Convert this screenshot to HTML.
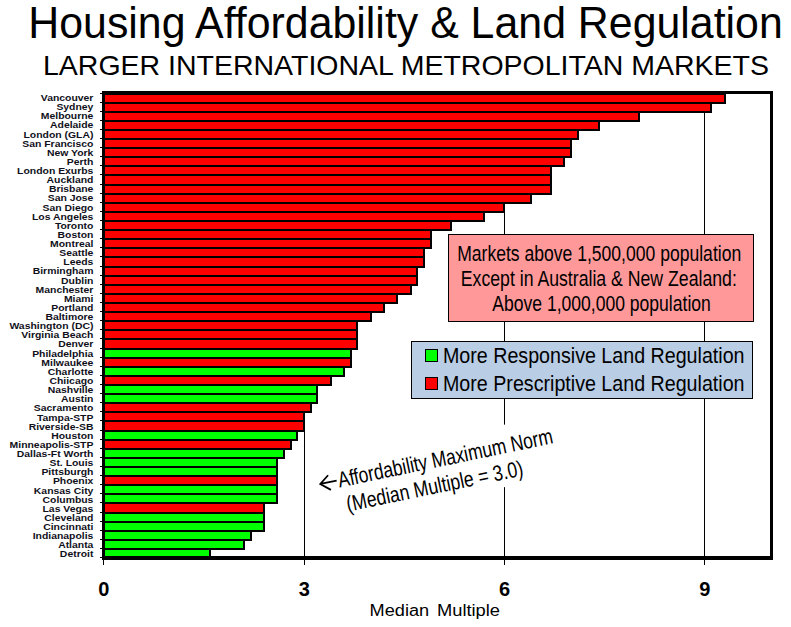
<!DOCTYPE html>
<html><head><meta charset="utf-8"><style>
html,body{margin:0;padding:0;background:#fff;width:791px;height:627px;overflow:hidden;}
svg{display:block;font-family:"Liberation Sans",sans-serif;}
</style></head><body>
<svg width="791" height="627" viewBox="0 0 791 627"><rect x="304" y="92" width="1" height="473" fill="#000"/>
<rect x="504" y="92" width="1" height="473" fill="#000"/>
<rect x="704" y="92" width="1" height="473" fill="#000"/>
<rect x="103" y="93" width="623" height="11" fill="#000"/>
<rect x="103" y="102" width="609" height="11" fill="#000"/>
<rect x="103" y="111" width="537" height="11" fill="#000"/>
<rect x="103" y="120" width="497" height="11" fill="#000"/>
<rect x="103" y="129" width="476" height="11" fill="#000"/>
<rect x="103" y="138" width="469" height="11" fill="#000"/>
<rect x="103" y="147" width="469" height="11" fill="#000"/>
<rect x="103" y="156" width="462" height="11" fill="#000"/>
<rect x="103" y="165" width="449" height="11" fill="#000"/>
<rect x="103" y="174" width="449" height="12" fill="#000"/>
<rect x="103" y="184" width="449" height="11" fill="#000"/>
<rect x="103" y="193" width="429" height="11" fill="#000"/>
<rect x="103" y="202" width="402" height="11" fill="#000"/>
<rect x="103" y="211" width="382" height="11" fill="#000"/>
<rect x="103" y="220" width="349" height="11" fill="#000"/>
<rect x="103" y="229" width="329" height="11" fill="#000"/>
<rect x="103" y="238" width="329" height="11" fill="#000"/>
<rect x="103" y="247" width="322" height="11" fill="#000"/>
<rect x="103" y="256" width="322" height="12" fill="#000"/>
<rect x="103" y="266" width="315" height="11" fill="#000"/>
<rect x="103" y="275" width="315" height="11" fill="#000"/>
<rect x="103" y="284" width="309" height="11" fill="#000"/>
<rect x="103" y="293" width="295" height="11" fill="#000"/>
<rect x="103" y="302" width="282" height="11" fill="#000"/>
<rect x="103" y="311" width="269" height="11" fill="#000"/>
<rect x="103" y="320" width="255" height="11" fill="#000"/>
<rect x="103" y="329" width="255" height="11" fill="#000"/>
<rect x="103" y="338" width="255" height="12" fill="#000"/>
<rect x="103" y="348" width="249" height="11" fill="#000"/>
<rect x="103" y="357" width="249" height="11" fill="#000"/>
<rect x="103" y="366" width="242" height="11" fill="#000"/>
<rect x="103" y="375" width="229" height="11" fill="#000"/>
<rect x="103" y="384" width="215" height="11" fill="#000"/>
<rect x="103" y="393" width="215" height="11" fill="#000"/>
<rect x="103" y="402" width="209" height="11" fill="#000"/>
<rect x="103" y="411" width="202" height="11" fill="#000"/>
<rect x="103" y="420" width="202" height="12" fill="#000"/>
<rect x="103" y="430" width="195" height="11" fill="#000"/>
<rect x="103" y="439" width="189" height="11" fill="#000"/>
<rect x="103" y="448" width="182" height="11" fill="#000"/>
<rect x="103" y="457" width="175" height="11" fill="#000"/>
<rect x="103" y="466" width="175" height="11" fill="#000"/>
<rect x="103" y="475" width="175" height="11" fill="#000"/>
<rect x="103" y="484" width="175" height="11" fill="#000"/>
<rect x="103" y="493" width="175" height="11" fill="#000"/>
<rect x="103" y="502" width="162" height="12" fill="#000"/>
<rect x="103" y="512" width="162" height="11" fill="#000"/>
<rect x="103" y="521" width="162" height="11" fill="#000"/>
<rect x="103" y="530" width="149" height="11" fill="#000"/>
<rect x="103" y="539" width="142" height="11" fill="#000"/>
<rect x="103" y="548" width="108" height="11" fill="#000"/>
<rect x="105" y="95" width="619" height="7" fill="#FF0000"/>
<rect x="105" y="104" width="605" height="7" fill="#FF0000"/>
<rect x="105" y="113" width="533" height="7" fill="#FF0000"/>
<rect x="105" y="122" width="493" height="7" fill="#FF0000"/>
<rect x="105" y="131" width="472" height="7" fill="#FF0000"/>
<rect x="105" y="140" width="465" height="7" fill="#FF0000"/>
<rect x="105" y="149" width="465" height="7" fill="#FF0000"/>
<rect x="105" y="158" width="458" height="7" fill="#FF0000"/>
<rect x="105" y="167" width="445" height="7" fill="#FF0000"/>
<rect x="105" y="176" width="445" height="8" fill="#FF0000"/>
<rect x="105" y="186" width="445" height="7" fill="#FF0000"/>
<rect x="105" y="195" width="425" height="7" fill="#FF0000"/>
<rect x="105" y="204" width="398" height="7" fill="#FF0000"/>
<rect x="105" y="213" width="378" height="7" fill="#FF0000"/>
<rect x="105" y="222" width="345" height="7" fill="#FF0000"/>
<rect x="105" y="231" width="325" height="7" fill="#FF0000"/>
<rect x="105" y="240" width="325" height="7" fill="#FF0000"/>
<rect x="105" y="249" width="318" height="7" fill="#FF0000"/>
<rect x="105" y="258" width="318" height="8" fill="#FF0000"/>
<rect x="105" y="268" width="311" height="7" fill="#FF0000"/>
<rect x="105" y="277" width="311" height="7" fill="#FF0000"/>
<rect x="105" y="286" width="305" height="7" fill="#FF0000"/>
<rect x="105" y="295" width="291" height="7" fill="#FF0000"/>
<rect x="105" y="304" width="278" height="7" fill="#FF0000"/>
<rect x="105" y="313" width="265" height="7" fill="#FF0000"/>
<rect x="105" y="322" width="251" height="7" fill="#FF0000"/>
<rect x="105" y="331" width="251" height="7" fill="#FF0000"/>
<rect x="105" y="340" width="251" height="8" fill="#FF0000"/>
<rect x="105" y="350" width="245" height="7" fill="#00FF00"/>
<rect x="105" y="359" width="245" height="7" fill="#FF0000"/>
<rect x="105" y="368" width="238" height="7" fill="#00FF00"/>
<rect x="105" y="377" width="225" height="7" fill="#FF0000"/>
<rect x="105" y="386" width="211" height="7" fill="#00FF00"/>
<rect x="105" y="395" width="211" height="7" fill="#00FF00"/>
<rect x="105" y="404" width="205" height="7" fill="#FF0000"/>
<rect x="105" y="413" width="198" height="7" fill="#FF0000"/>
<rect x="105" y="422" width="198" height="8" fill="#FF0000"/>
<rect x="105" y="432" width="191" height="7" fill="#00FF00"/>
<rect x="105" y="441" width="185" height="7" fill="#FF0000"/>
<rect x="105" y="450" width="178" height="7" fill="#00FF00"/>
<rect x="105" y="459" width="171" height="7" fill="#00FF00"/>
<rect x="105" y="468" width="171" height="7" fill="#00FF00"/>
<rect x="105" y="477" width="171" height="7" fill="#FF0000"/>
<rect x="105" y="486" width="171" height="7" fill="#00FF00"/>
<rect x="105" y="495" width="171" height="7" fill="#00FF00"/>
<rect x="105" y="504" width="158" height="8" fill="#FF0000"/>
<rect x="105" y="514" width="158" height="7" fill="#00FF00"/>
<rect x="105" y="523" width="158" height="7" fill="#00FF00"/>
<rect x="105" y="532" width="145" height="7" fill="#00FF00"/>
<rect x="105" y="541" width="138" height="7" fill="#00FF00"/>
<rect x="105" y="550" width="104" height="7" fill="#00FF00"/>
<rect x="102" y="91" width="3" height="469" fill="#000"/>
<rect x="770" y="91" width="3" height="469" fill="#000"/>
<rect x="102" y="91" width="671" height="3" fill="#000"/>
<rect x="102" y="556" width="671" height="4" fill="#000"/>
<rect x="100" y="93" width="3" height="1" fill="#000"/>
<rect x="100" y="102" width="3" height="1" fill="#000"/>
<rect x="100" y="111" width="3" height="1" fill="#000"/>
<rect x="100" y="120" width="3" height="1" fill="#000"/>
<rect x="100" y="129" width="3" height="1" fill="#000"/>
<rect x="100" y="138" width="3" height="1" fill="#000"/>
<rect x="100" y="147" width="3" height="1" fill="#000"/>
<rect x="100" y="156" width="3" height="1" fill="#000"/>
<rect x="100" y="165" width="3" height="1" fill="#000"/>
<rect x="100" y="174" width="3" height="1" fill="#000"/>
<rect x="100" y="184" width="3" height="1" fill="#000"/>
<rect x="100" y="193" width="3" height="1" fill="#000"/>
<rect x="100" y="202" width="3" height="1" fill="#000"/>
<rect x="100" y="211" width="3" height="1" fill="#000"/>
<rect x="100" y="220" width="3" height="1" fill="#000"/>
<rect x="100" y="229" width="3" height="1" fill="#000"/>
<rect x="100" y="238" width="3" height="1" fill="#000"/>
<rect x="100" y="247" width="3" height="1" fill="#000"/>
<rect x="100" y="256" width="3" height="1" fill="#000"/>
<rect x="100" y="266" width="3" height="1" fill="#000"/>
<rect x="100" y="275" width="3" height="1" fill="#000"/>
<rect x="100" y="284" width="3" height="1" fill="#000"/>
<rect x="100" y="293" width="3" height="1" fill="#000"/>
<rect x="100" y="302" width="3" height="1" fill="#000"/>
<rect x="100" y="311" width="3" height="1" fill="#000"/>
<rect x="100" y="320" width="3" height="1" fill="#000"/>
<rect x="100" y="329" width="3" height="1" fill="#000"/>
<rect x="100" y="338" width="3" height="1" fill="#000"/>
<rect x="100" y="348" width="3" height="1" fill="#000"/>
<rect x="100" y="357" width="3" height="1" fill="#000"/>
<rect x="100" y="366" width="3" height="1" fill="#000"/>
<rect x="100" y="375" width="3" height="1" fill="#000"/>
<rect x="100" y="384" width="3" height="1" fill="#000"/>
<rect x="100" y="393" width="3" height="1" fill="#000"/>
<rect x="100" y="402" width="3" height="1" fill="#000"/>
<rect x="100" y="411" width="3" height="1" fill="#000"/>
<rect x="100" y="420" width="3" height="1" fill="#000"/>
<rect x="100" y="430" width="3" height="1" fill="#000"/>
<rect x="100" y="439" width="3" height="1" fill="#000"/>
<rect x="100" y="448" width="3" height="1" fill="#000"/>
<rect x="100" y="457" width="3" height="1" fill="#000"/>
<rect x="100" y="466" width="3" height="1" fill="#000"/>
<rect x="100" y="475" width="3" height="1" fill="#000"/>
<rect x="100" y="484" width="3" height="1" fill="#000"/>
<rect x="100" y="493" width="3" height="1" fill="#000"/>
<rect x="100" y="502" width="3" height="1" fill="#000"/>
<rect x="100" y="512" width="3" height="1" fill="#000"/>
<rect x="100" y="521" width="3" height="1" fill="#000"/>
<rect x="100" y="530" width="3" height="1" fill="#000"/>
<rect x="100" y="539" width="3" height="1" fill="#000"/>
<rect x="100" y="548" width="3" height="1" fill="#000"/>
<rect x="100" y="557" width="3" height="1" fill="#000"/>
<rect x="103" y="559" width="1" height="6" fill="#000"/>
<g transform="translate(93.4,0) scale(1.12,1)" font-family="Liberation Sans" font-weight="bold" font-size="9.3" text-anchor="end" fill="#10101a"><text x="0" y="101.00">Vancouver</text><text x="0" y="110.13">Sydney</text><text x="0" y="119.26">Melbourne</text><text x="0" y="128.39">Adelaide</text><text x="0" y="137.52">London (GLA)</text><text x="0" y="146.65">San Francisco</text><text x="0" y="155.78">New York</text><text x="0" y="164.91">Perth</text><text x="0" y="174.04">London Exurbs</text><text x="0" y="183.17">Auckland</text><text x="0" y="192.30">Brisbane</text><text x="0" y="201.43">San Jose</text><text x="0" y="210.56">San Diego</text><text x="0" y="219.69">Los Angeles</text><text x="0" y="228.82">Toronto</text><text x="0" y="237.95">Boston</text><text x="0" y="247.08">Montreal</text><text x="0" y="256.21">Seattle</text><text x="0" y="265.34">Leeds</text><text x="0" y="274.47">Birmingham</text><text x="0" y="283.60">Dublin</text><text x="0" y="292.73">Manchester</text><text x="0" y="301.86">Miami</text><text x="0" y="310.99">Portland</text><text x="0" y="320.12">Baltimore</text><text x="0" y="329.25">Washington (DC)</text><text x="0" y="338.38">Virginia Beach</text><text x="0" y="347.51">Denver</text><text x="0" y="356.64">Philadelphia</text><text x="0" y="365.77">Milwaukee</text><text x="0" y="374.90">Charlotte</text><text x="0" y="384.03">Chiicago</text><text x="0" y="393.16">Nashville</text><text x="0" y="402.29">Austin</text><text x="0" y="411.42">Sacramento</text><text x="0" y="420.55">Tampa-STP</text><text x="0" y="429.68">Riverside-SB</text><text x="0" y="438.81">Houston</text><text x="0" y="447.94">Minneapolis-STP</text><text x="0" y="457.07">Dallas-Ft Worth</text><text x="0" y="466.20">St. Louis</text><text x="0" y="475.33">Pittsburgh</text><text x="0" y="484.46">Phoenix</text><text x="0" y="493.59">Kansas City</text><text x="0" y="502.72">Columbus</text><text x="0" y="511.85">Las Vegas</text><text x="0" y="520.98">Cleveland</text><text x="0" y="530.11">Cincinnati</text><text x="0" y="539.24">Indianapolis</text><text x="0" y="548.37">Atlanta</text><text x="0" y="557.50">Detroit</text></g>
<text x="103.8" y="595.5" font-family="Liberation Sans" font-weight="bold" font-size="20" text-anchor="middle" fill="#000">0</text>
<text x="304.3" y="595.5" font-family="Liberation Sans" font-weight="bold" font-size="20" text-anchor="middle" fill="#000">3</text>
<text x="504.5" y="595.5" font-family="Liberation Sans" font-weight="bold" font-size="20" text-anchor="middle" fill="#000">6</text>
<text x="704.8" y="595.5" font-family="Liberation Sans" font-weight="bold" font-size="20" text-anchor="middle" fill="#000">9</text>
<text x="369.6" y="616.1" font-family="Liberation Sans" font-size="16" textLength="59.5" lengthAdjust="spacingAndGlyphs" fill="#000">Median</text>
<text x="437" y="616.1" font-family="Liberation Sans" font-size="16" textLength="63" lengthAdjust="spacingAndGlyphs" fill="#000">Multiple</text>
<text x="28.3" y="37.9" font-family="Liberation Sans" font-size="44" textLength="754.5" lengthAdjust="spacingAndGlyphs" fill="#000">Housing Affordability &amp; Land Regulation</text>
<text x="43" y="75" font-family="Liberation Sans" font-size="27.5" textLength="726" lengthAdjust="spacingAndGlyphs" fill="#000">LARGER INTERNATIONAL METROPOLITAN MARKETS</text>
<rect x="448.5" y="234.5" width="305" height="87" fill="#FF9999" stroke="#000" stroke-width="1"/>
<g font-family="Liberation Sans" font-size="21.6" fill="#000"><text x="457.2" y="260.7" textLength="284" lengthAdjust="spacingAndGlyphs">Markets above 1,500,000 population</text><text x="460.8" y="285.7" textLength="276" lengthAdjust="spacingAndGlyphs">Except in Australia &amp; New Zealand:</text><text x="492.3" y="311.2" textLength="218.5" lengthAdjust="spacingAndGlyphs">Above 1,000,000 population</text></g>
<rect x="411.5" y="341.5" width="341" height="57" fill="#B9CDE5" stroke="#000" stroke-width="1"/>
<rect x="425.5" y="349.5" width="12" height="12" fill="#00FF00" stroke="#000" stroke-width="1"/>
<rect x="425.5" y="377.5" width="12" height="12" fill="#FF0000" stroke="#000" stroke-width="1"/>
<g font-family="Liberation Sans" font-size="22" fill="#000"><text x="443" y="363" textLength="301.5" lengthAdjust="spacingAndGlyphs">More Responsive Land Regulation</text><text x="443" y="391" textLength="301.5" lengthAdjust="spacingAndGlyphs">More Prescriptive Land Regulation</text></g>
<g transform="translate(340,487.4) rotate(-11.7)" font-family="Liberation Sans" font-size="22" fill="#000"><rect x="-24" y="-28" width="248" height="61" fill="#fff"/><text x="-0.5" y="0" textLength="219" lengthAdjust="spacingAndGlyphs">Affordability Maximum Norm</text><text x="3" y="25.5" textLength="180" lengthAdjust="spacingAndGlyphs">(Median Multiple = 3.0)</text><path d="M-1.9,-7.3 L-18.6,-7.4 M-9.2,-14.3 L-18.6,-7.4 L-9.4,0.6" stroke="#000" stroke-width="1.8" fill="none"/></g></svg>
</body></html>
